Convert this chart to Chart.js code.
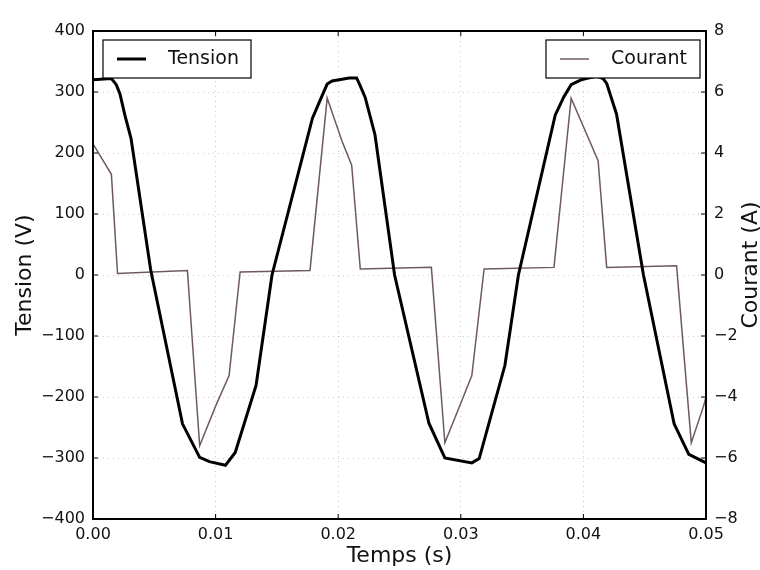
<!DOCTYPE html>
<html>
<head>
  <meta charset="utf-8">
  <script src="https://cdn.jsdelivr.net/npm/chart.js@4.4.1/dist/chart.umd.min.js"></script>
  <style>
    body { margin: 0; background: #fff; }
    #holder { width: 760px; height: 570px; }
  </style>
</head>
<body>
<div id="holder">
  <canvas id="chart-area"></canvas>
</div>

<script>
// time (s) and values
var tensionT = [0, 0.0015, 0.0019, 0.0022, 0.0026, 0.0031, 0.0047, 0.0073, 0.0087, 0.0095, 0.0108, 0.0116, 0.0133, 0.0146,
                0.0179, 0.0186, 0.0191, 0.0195, 0.0209, 0.0215, 0.0218, 0.0222, 0.0230, 0.0246, 0.0274, 0.0287, 0.0309, 0.0315,
                0.0336, 0.0347, 0.0377, 0.0384, 0.0390, 0.0398, 0.0411, 0.0416, 0.0419, 0.0427, 0.0449, 0.0474, 0.0486, 0.0498, 0.0500];
var tensionV = [320, 322, 312, 297, 262, 224, 9, -244, -299, -306, -312, -291, -181, 0,
                257, 290, 313, 318, 323, 323, 310, 291, 230, 0, -243, -300, -308, -301,
                -148, 0, 262, 292, 312, 320, 326, 322, 314, 264, 0, -244, -294, -306, -308];

var courantT = [0, 0.0015, 0.0020, 0.0077, 0.0087, 0.0100, 0.0111, 0.0120, 0.0177, 0.0191, 0.0203, 0.0211,
                0.0218, 0.0276, 0.0287, 0.0298, 0.0309, 0.0319, 0.0376, 0.0390, 0.0412, 0.0419, 0.0476,
                0.0488, 0.0498, 0.0500];
var courantA = [4.3, 3.3, 0.05, 0.15, -5.6, -4.3, -3.3, 0.1, 0.15, 5.8, 4.4, 3.6,
                0.2, 0.25, -5.5, -4.4, -3.3, 0.2, 0.25, 5.8, 3.75, 0.25, 0.3,
                -5.5, -4.3, -4.0];

var xTicks = [0, 0.01, 0.02, 0.03, 0.04, 0.05];
var rightTitle = 'Courant (A)';

function pts(t, v) {
    return t.map(function(x, i) { return { x: x, y: v[i] }; });
}

function minus(v) {
    return String(v).replace('-', '\u2212');
}

var font = '"DejaVu Sans", sans-serif';

// frame, inward ticks, right title (reads upward) and the two separate legends
var framePlugin = {
    id: 'frame',
    afterDatasetsDraw: function(chart) {
        var ctx = chart.ctx, a = chart.chartArea;
        var sx = chart.scales.x, sy = chart.scales.y, sy1 = chart.scales.y1;
        ctx.save();
        ctx.strokeStyle = '#000';
        ctx.lineWidth = 2;
        ctx.strokeRect(a.left, a.top, a.right - a.left, a.bottom - a.top);

        ctx.lineWidth = 1;
        ctx.beginPath();
        sx.ticks.forEach(function(t) {
            var p = sx.getPixelForValue(t.value);
            ctx.moveTo(p, a.bottom); ctx.lineTo(p, a.bottom - 5);
            ctx.moveTo(p, a.top); ctx.lineTo(p, a.top + 5);
        });
        sy.ticks.forEach(function(t) {
            var p = sy.getPixelForValue(t.value);
            ctx.moveTo(a.left, p); ctx.lineTo(a.left + 5, p);
        });
        sy1.ticks.forEach(function(t) {
            var p = sy1.getPixelForValue(t.value);
            ctx.moveTo(a.right, p); ctx.lineTo(a.right - 5, p);
        });
        ctx.stroke();

        // right axis title, rotated like matplotlib's twinx label
        ctx.save();
        ctx.translate(751, (a.top + a.bottom) / 2 - 10);
        ctx.rotate(-Math.PI / 2);
        ctx.fillStyle = '#111';
        ctx.font = '22px ' + font;
        ctx.textAlign = 'center';
        ctx.textBaseline = 'middle';
        ctx.fillText(rightTitle, 0, 0);
        ctx.restore();

        var boxes = [
            { ds: chart.data.datasets[0], x: a.left + 10, y: a.top + 9, w: 148, h: 38 },
            { ds: chart.data.datasets[1], x: a.right - 160, y: a.top + 9, w: 154, h: 38 }
        ];
        boxes.forEach(function(b) {
            ctx.fillStyle = '#fff';
            ctx.fillRect(b.x, b.y, b.w, b.h);
            ctx.strokeStyle = '#000';
            ctx.lineWidth = 1.2;
            ctx.strokeRect(b.x, b.y, b.w, b.h);
            var cy = b.y + b.h / 2;
            ctx.beginPath();
            ctx.strokeStyle = b.ds.borderColor;
            ctx.lineWidth = b.ds.borderWidth;
            ctx.moveTo(b.x + 14, cy); ctx.lineTo(b.x + 43, cy);
            ctx.stroke();
            ctx.fillStyle = '#111';
            ctx.font = '19px ' + font;
            ctx.textAlign = 'left';
            ctx.textBaseline = 'middle';
            ctx.fillText(b.ds.label, b.x + 65, cy);
        });
        ctx.restore();
    }
};

var config = {
    type: 'line',
    data: {
        datasets: [{
            label: 'Tension',
            data: pts(tensionT, tensionV),
            borderColor: '#000',
            borderWidth: 3,
            pointRadius: 0,
            tension: 0,
            yAxisID: 'y'
        }, {
            label: 'Courant',
            data: pts(courantT, courantA),
            borderColor: '#6e5a5e',
            borderWidth: 1.5,
            pointRadius: 0,
            tension: 0,
            yAxisID: 'y1'
        }]
    },
    options: {
        responsive: true,
        maintainAspectRatio: false,
        animation: false,
        layout: { padding: { top: 31, left: 0, right: 0, bottom: 0 } },
        plugins: {
            legend: { display: false },
            tooltip: { enabled: false }
        },
        scales: {
            x: {
                type: 'linear',
                min: 0,
                max: 0.05,
                afterBuildTicks: function(s) { s.ticks = xTicks.map(function(v) { return { value: v }; }); },
                afterFit: function(s) { s.height = 51; },
                grid: { color: 'rgba(0,0,0,0.2)', drawTicks: false },
                border: { display: false, dash: [1, 4] },
                ticks: {
                    padding: 6,
                    color: '#111',
                    font: { family: font, size: 16 },
                    callback: function(v) { return v.toFixed(2); }
                },
                title: {
                    display: true,
                    text: 'Temps (s)',
                    color: '#111',
                    font: { family: font, size: 22 },
                    padding: { top: 0, bottom: 1 }
                }
            },
            y: {
                position: 'left',
                min: -400,
                max: 400,
                ticks: {
                    stepSize: 100,
                    padding: 8,
                    color: '#111',
                    font: { family: font, size: 16 },
                    callback: function(v) { return minus(v); }
                },
                afterFit: function(s) { s.width = 93; },
                grid: { color: 'rgba(0,0,0,0.2)', drawTicks: false },
                border: { display: false, dash: [1, 4] },
                title: {
                    display: true,
                    text: 'Tension (V)',
                    color: '#111',
                    font: { family: font, size: 22 },
                    padding: { top: 12, bottom: 0 }
                }
            },
            y1: {
                position: 'right',
                min: -8,
                max: 8,
                ticks: {
                    stepSize: 2,
                    padding: 8,
                    color: '#111',
                    font: { family: font, size: 16 },
                    callback: function(v) { return minus(v); }
                },
                afterFit: function(s) { s.width = 54; },
                grid: { display: false, drawTicks: false },
                border: { display: false }
            }
        }
    },
    plugins: [framePlugin]
};

window.onload = function() {
    var ctx = document.getElementById('chart-area').getContext('2d');
    window.myChart = new Chart(ctx, config);
};
</script>
</body>
</html>
